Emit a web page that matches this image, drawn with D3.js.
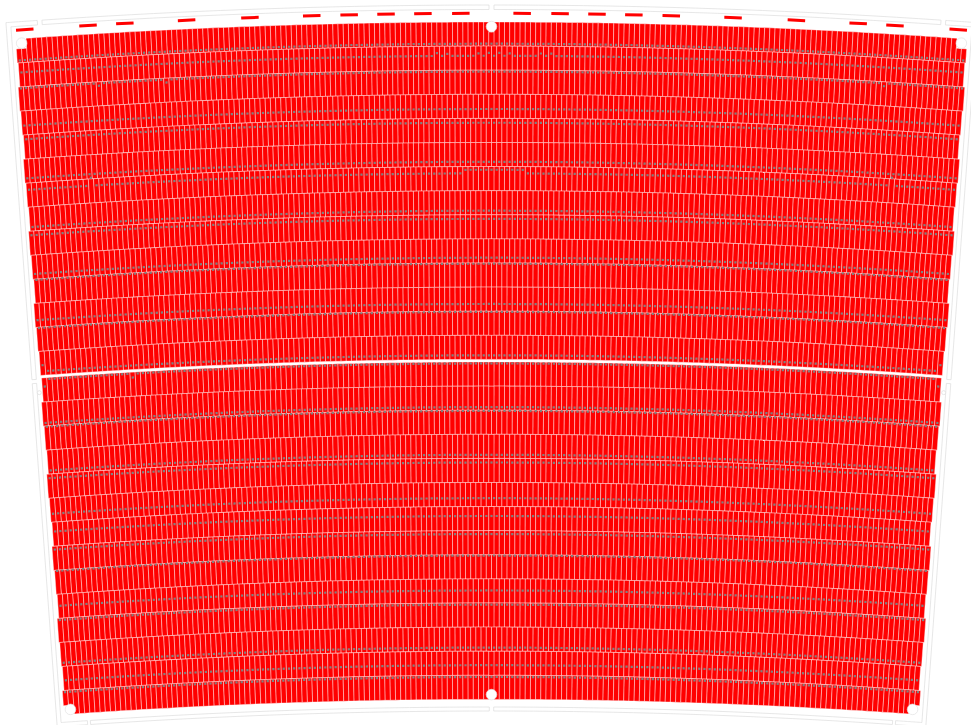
<!DOCTYPE html>
<html>
<head>
<meta charset="utf-8">
<script src="https://unpkg.com/d3@7.8.5/dist/d3.min.js"></script>
<style>
html, body { margin: 0; padding: 0; background: #fff; }
svg { display: block; }
</style>
</head>
<body>
<div id="plan"></div>
<script>
// panels per row, crown to foot
let rowPanels = [183, 182, 182, 181, 180, 180, 179, 178, 178, 177, 176, 176, 175, 174,
                 173, 173, 172, 171, 171, 170, 169, 169, 168, 167, 167, 166, 165, 165];
// where the grey marker sits across each row (0 = top of row, 1 = bottom)
let markerFraction = [0.9, 0.4, 0.06, 0.61, 0.18, 0.8, 0.28, 0.83, 0.17, 0.78, 0.03, 0.7, 0.03, 0.83,
                      0.06, 0.87, 0.03, 0.85, 0.17, 0.65, 0.39, 0.14, 0.03, 0.48, 0.07, 0.85, 0.58, 0.07];
// markers out of line: row, first panel, last panel, shift in row heights
let markerShifts = [
    [1, 80, 80, -0.12], [1, 82, 82, -0.08], [1, 88, 88, -0.1], [1, 90, 90, -0.12],
    [1, 92, 92, -0.12], [1, 94, 94, -0.1], [1, 100, 100, -0.1], [1, 102, 102, -0.1],
    [2, 15, 15, 0.1], [2, 28, 28, 0.12], [2, 166, 166, 0.12],
    [6, 12, 12, -0.33], [6, 84, 95, -0.15], [6, 166, 166, -0.33],
    [13, 0, 0, -0.25], [13, 173, 173, -0.25],
    [14, 0, 0, 0.3], [14, 17, 17, 0.16], [14, 172, 172, 0.3]
];
// panels cut short by the round posts
let notchedTop = [0, 1, 91, 181, 182];
let notchedFoot = [0, 1, 82, 163, 164];
// red dashes along the crown, in panel widths either side of the axis
let dashOffsets = [5.9, 13.2, 20.3, 27.4, 34.6, 46.5, 58.7, 70.6, 77.7, 89.9];
// round posts: row position and panel widths off the axis
let postRows = [0.19, 0.19, 0.19, 27.8, 27.8, 27.8];
let postOffsets = [-90.5, 0, 90.5, -81.1, 0, 81.1];
let jointRows = [14.6, 14.6];
let jointOffsets = [-87.1, 87.1];

let width = 971;
let height = 725;
let cx = 491.5;
let cy = 6690;
let pitch = 24.1;
let panelW = 5.196;

let svg = d3.select("#plan").append("svg")
    .attr("width", width)
    .attr("height", height);

let plan = svg.append("g")
    .attr("transform", `translate(${cx},${cy})`);

// row position -> radius, the two blocks have a walkway between them
let upperRadius = d3.scaleLinear().domain([0, 14]).range([6668, 6668 - 14 * pitch]);
let lowerRadius = d3.scaleLinear().domain([14, 28]).range([6328, 6328 - 14 * pitch]);
let radius = r => r < 14 ? upperRadius(r) : lowerRadius(r);
let arcLen = d3.scaleLinear().domain([0, 1]).range([0, panelW]);
let deg = a => a * 180 / Math.PI;

// panels and markers, one of each per panel
let panels = [];
rowPanels.forEach((n, row) => {
    let r = radius(row);
    let mid = r - pitch / 2;
    let angle = d3.scaleLinear().domain([0, n]).range([-arcLen(n / 2) / mid, arcLen(n / 2) / mid]);
    d3.range(n).forEach(j => {
        let cutTop = row === 0 && notchedTop.includes(j) ? 10 : 0;
        let cutFoot = row === 27 && notchedFoot.includes(j) ? 9 : 0;
        let shift = markerShifts.find(s => s[0] === row && j >= s[1] && j <= s[2]);
        panels.push({
            row: row,
            rot: deg(angle(j + 0.5)),
            top: r - cutTop,
            len: pitch - cutTop - cutFoot,
            mark: r - pitch * (markerFraction[row] + (shift ? shift[3] : 0))
        });
    });
});

plan.append("g").selectAll("rect")
    .data(panels)
    .join("rect")
    .attr("x", -panelW / 2)
    .attr("y", d => -d.top)
    .attr("width", panelW)
    .attr("height", d => d.len)
    .attr("transform", d => `rotate(${d.rot})`)
    .attr("fill", "#ff0000")
    .attr("stroke", "#fff")
    .attr("stroke-width", 0.4);

plan.append("g").selectAll("rect")
    .data(panels)
    .join("rect")
    .attr("x", -1.1)
    .attr("y", d => -d.mark - 1.1)
    .attr("width", 2.2)
    .attr("height", 2.2)
    .attr("transform", d => `rotate(${d.rot})`)
    .attr("fill", "#808080");

// crown dashes, mirrored
let dashes = dashOffsets.flatMap(d => [d, -d]);
plan.append("g").selectAll("rect")
    .data(dashes)
    .join("rect")
    .attr("x", -8.75)
    .attr("y", -6676.7 - 1.5)
    .attr("width", 17.5)
    .attr("height", 3)
    .attr("transform", d => `rotate(${deg(arcLen(d) / 6676.7)})`)
    .attr("fill", "#ff0000");

// thin outline of the walls
let polar = d3.lineRadial().angle(d => d[0]).radius(d => d[1]);
function arcPts(a0, a1, r) {
    return d3.range(0, 21).map(k => [a0 + (a1 - a0) * k / 20, r]);
}
function band(a0, a1, r0, r1) {
    return polar(arcPts(a0, a1, r0).concat(arcPts(a1, a0, r1))) + "Z";
}
function corner(side, rOut, rIn, rEnd0, rEnd1, stub) {
    // L shaped piece, runs along the side wall and turns onto the crown or foot
    let aO = side * 0.0727, aI = side * 0.072, aS = side * stub;
    return polar(arcPts(aS, aO, rOut).concat(arcPts(aO, aO, rEnd0), arcPts(aI, aI, rEnd1), arcPts(aI, aS, rIn))) + "Z";
}
let walls = [];
[-1, 1].forEach(side => {
    walls.push(band(side * 0.00037, side * 0.0673, 6685, 6680.5));
    walls.push(band(side * 0.00037, side * 0.0671, 5979, 5983));
    walls.push(corner(side, 6685, 6680.5, 6327, 6327, 0.068));
    walls.push(corner(side, 5979, 5983, 6323, 6323, 0.0676));
});
plan.append("g").selectAll("path")
    .data(walls)
    .join("path")
    .attr("d", d => d)
    .attr("fill", "none")
    .attr("stroke", "#dcdcdc")
    .attr("stroke-width", 0.7);

// round posts sit over the panels
function postPoint(row, off) {
    let r = radius(row);
    let a = arcLen(off) / r;
    return [r * Math.sin(a), -r * Math.cos(a)];
}
plan.append("g").selectAll("circle")
    .data(postRows.map((r, i) => postPoint(r, postOffsets[i])))
    .join("circle")
    .attr("cx", d => d[0])
    .attr("cy", d => d[1])
    .attr("r", 5.3)
    .attr("fill", "#fff")
    .attr("stroke", "#e2e2e2")
    .attr("stroke-width", 0.7);

plan.append("g").selectAll("circle")
    .data(jointRows.map((r, i) => postPoint(r, jointOffsets[i])))
    .join("circle")
    .attr("cx", d => d[0])
    .attr("cy", d => d[1])
    .attr("r", 2)
    .attr("fill", "#fff")
    .attr("stroke", "#dddddd")
    .attr("stroke-width", 0.7);
</script>
</body>
</html>
